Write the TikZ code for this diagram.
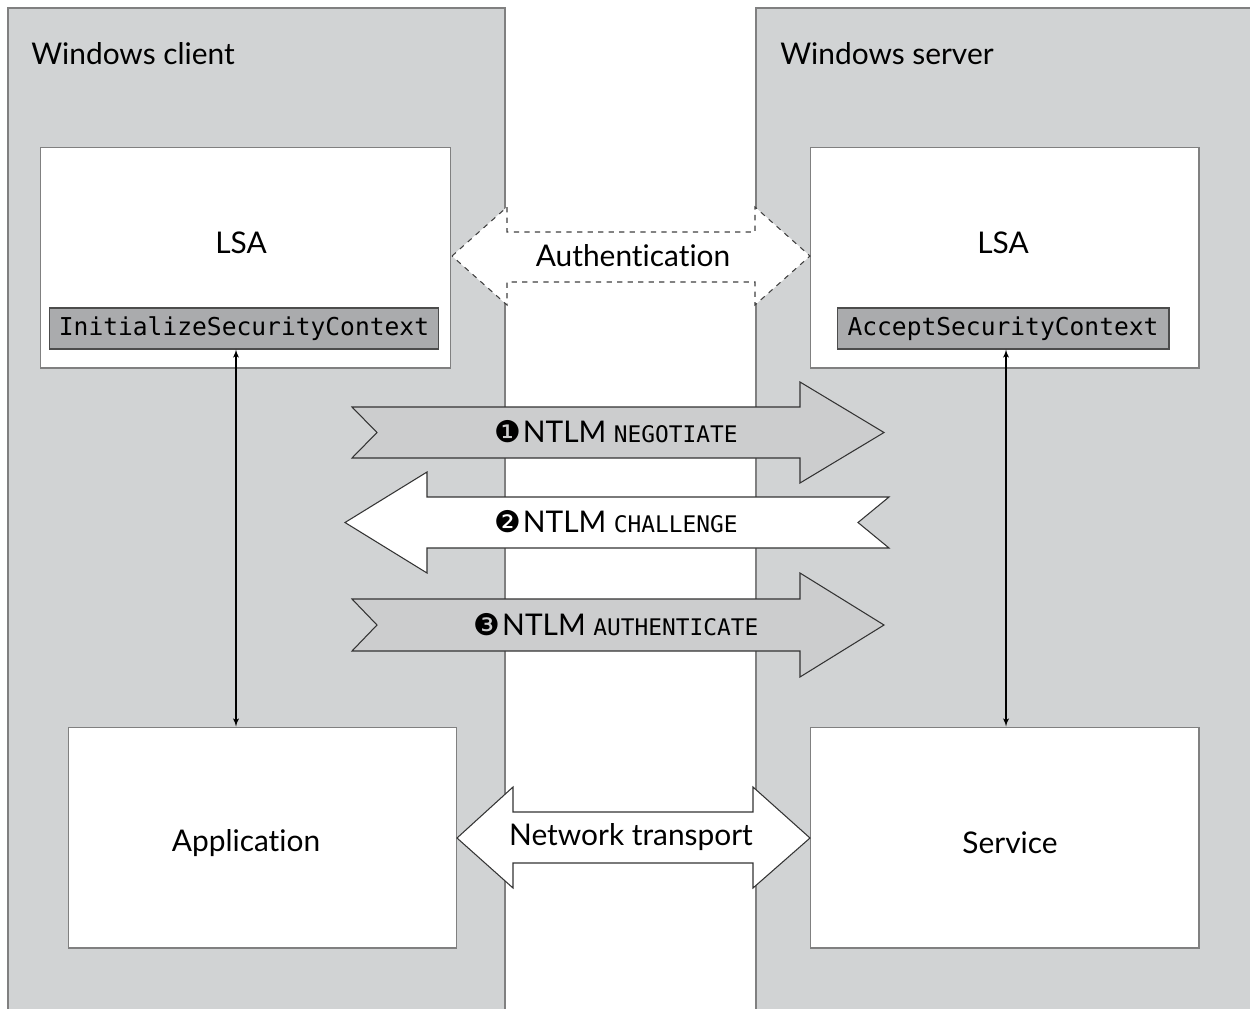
\documentclass[tikz,border=0pt]{standalone}
\usepackage{fontspec}
\setmainfont{Lato}[Ligatures={NoCommon}]
\setmonofont{DejaVu Sans Mono}
\newfontfamily\dingfont{DejaVu Sans}
\usepackage{xcolor}
\usepackage{tikz}
\usetikzlibrary{arrows, positioning, calc}

\definecolor{panelgray}{RGB}{209,211,212}
\definecolor{ctxgray}{RGB}{170,171,173}
\definecolor{ribbongray}{RGB}{204,205,206}
\definecolor{edgegray}{RGB}{128,128,128}

\begin{document}
\begin{tikzpicture}[x=0.02cm, y=-0.02cm, >=latex']
        % Define styles
        \tikzstyle{panel} = [fill=panelgray, draw=edgegray, line width=0.6pt]
        \tikzstyle{blockbox} = [rectangle, fill=white, draw=edgegray, line width=0.6pt, minimum width=7.78cm, minimum height=4.42cm]
        \tikzstyle{ctxbox} = [rectangle, fill=ctxgray, draw=black!70, line width=0.6pt, minimum height=0.82cm, inner sep=0pt, font=\ttfamily\fontsize{14}{16}\selectfont]
        \tikzstyle{txt} = [inner sep=0pt, font=\fontsize{17}{20}\selectfont]
        \tikzstyle{ribbon} = [draw=black!80, line width=0.6pt, fill=ribbongray]
        \tikzstyle{biarrow} = [<->, line width=0.6pt]
        \newcommand{\msg}[2]{{\dingfont\fontsize{17}{18}\selectfont #1}\kern1pt NTLM {\ttfamily\fontsize{13}{16}\selectfont #2}}

        \useasboundingbox (0,0) rectangle (1250,1008);

        % Client and server panels
        \path[panel] (8,8) rectangle (505,1040);
        \path[panel] (756,8) rectangle (1270,1040);
        \node (client) [txt, anchor=west] at (31,54) {Windows client};
        \node (server) [txt, anchor=west] at (780,54) {Windows server};

        % LSA boxes
        \node (lsaL) [blockbox, minimum width=8.22cm] at (245.5,257.5) {};
        \node (lsaR) [blockbox] at (1004.5,257.5) {};
        \node (lsaLtxt) [txt] at (241,243) {LSA};
        \node (lsaRtxt) [txt] at (1003,243) {LSA};
        \node (initctx) [ctxbox, minimum width=7.8cm] at (244,328.5) {InitializeSecurityContext};
        \node (acceptctx) [ctxbox, minimum width=6.64cm] at (1003,328.5) {AcceptSecurityContext};

        % Application and service
        \node (app) [blockbox] at (262.5,837.5) {};
        \node (service) [blockbox] at (1004.5,837.5) {};
        \node (apptxt) [txt] at (246,843) {Application};
        \node (servicetxt) [txt] at (1010,843) {Service};

        % Authentication (dashed)
        \path[draw=black!75, line width=0.6pt, dash pattern=on 3pt off 3pt, fill=white]
            (452,256) -- (507,207) -- (507,232) -- (755,232) -- (755,207) -- (810,256)
            -- (755,305) -- (755,282) -- (507,282) -- (507,305) -- cycle;
        \node (auth) [txt] at (633,256) {Authentication};

        % NTLM messages
        \path[ribbon] (352,407) -- (800,407) -- (800,382) -- (884,432.5) -- (800,483)
            -- (800,458) -- (352,458) -- (377,432.5) -- cycle;
        \node (negotiate) [txt] at (616,432) {\msg{❶}{NEGOTIATE}};
        \path[ribbon, fill=white] (345,522.5) -- (427,472) -- (427,497) -- (889,497) -- (858,522.5)
            -- (889,548) -- (427,548) -- (427,573) -- cycle;
        \node (challenge) [txt] at (616,522) {\msg{❷}{CHALLENGE}};
        \path[ribbon] (352,599) -- (800,599) -- (800,573) -- (884,625) -- (800,677)
            -- (800,651) -- (352,651) -- (377,625) -- cycle;
        \node (authenticate) [txt] at (616,625) {\msg{❸}{AUTHENTICATE}};

        % Network transport
        \path[ribbon, fill=white] (457,838) -- (513,787) -- (513,812) -- (753,812) -- (753,787) -- (810,838)
            -- (753,888) -- (753,863) -- (513,863) -- (513,888) -- cycle;
        \node (transport) [txt] at (631,837) {Network transport};

        % Calls between layers
        \coordinate (lx) at (236,0);
        \coordinate (rx) at (1006,0);
        \draw [biarrow] (initctx.south -| lx) -- (app.north -| lx);
        \draw [biarrow] (acceptctx.south -| rx) -- (service.north -| rx);
    \end{tikzpicture}
\end{document}
